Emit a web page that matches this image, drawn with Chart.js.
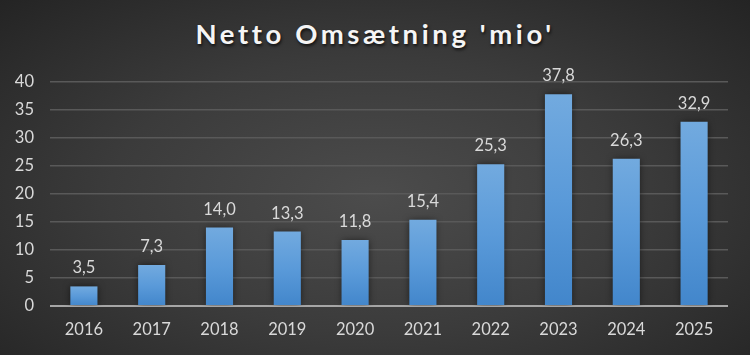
<!DOCTYPE html>
<html>
<head>
<meta charset="utf-8">
<script src="https://cdn.jsdelivr.net/npm/chart.js@4/dist/chart.umd.min.js"></script>
<style>
  html, body { margin: 0; padding: 0; }
  body {
    width: 750px; height: 355px; overflow: hidden; position: relative;
    background: radial-gradient(ellipse farthest-corner at 50% 55%, #4c4c4c 0%, #3b3b3b 50%, #242424 100%);
  }
  #title {
    position: absolute; left: 0; top: 17px; width: 750px; text-align: center;
    font-family: Lato, "Open Sans", sans-serif; font-weight: bold; font-size: 27.5px;
    letter-spacing: 3.6px; color: #f5f5f5;
    text-shadow: 1px 2px 3px rgba(0,0,0,0.7);
  }
  #wrap { position: absolute; left: 0; top: 0; width: 750px; height: 355px; }
</style>
</head>
<body>
<div id="title">Netto Omsætning 'mio'</div>
<div id="wrap"><canvas id="c" width="750" height="355"></canvas></div>
<script>
const years = ['2016','2017','2018','2019','2020','2021','2022','2023','2024','2025'];
const revenue = [3.5, 7.3, 14.0, 13.3, 11.8, 15.4, 25.3, 37.8, 26.3, 32.9];
const yTicks = [0, 5, 10, 15, 20, 25, 30, 35, 40];

const FONT = 'Lato, "Open Sans", sans-serif';

function barGradient(context) {
  const chart = context.chart;
  const { ctx, chartArea, scales } = chart;
  if (!chartArea || context.dataIndex === undefined) return '#5b9bd5';
  const v = context.dataset.data[context.dataIndex];
  const top = scales.y.getPixelForValue(v);
  const bottom = scales.y.getPixelForValue(0);
  const g = ctx.createLinearGradient(0, top, 0, bottom);
  g.addColorStop(0, '#72aadf');
  g.addColorStop(0.5, '#5a9ad9');
  g.addColorStop(1, '#4286cb');
  return g;
}

const shadowPlugin = {
  id: 'barShadow',
  beforeDatasetsDraw(chart) {
    const ctx = chart.ctx;
    ctx.save();
    ctx.shadowColor = 'rgba(0,0,0,0.55)';
    ctx.shadowBlur = 7;
    ctx.shadowOffsetX = 0;
    ctx.shadowOffsetY = 0;
  },
  afterDatasetsDraw(chart) {
    chart.ctx.restore();
  }
};

const labelPlugin = {
  id: 'valueLabels',
  afterDatasetsDraw(chart) {
    const ctx = chart.ctx;
    const meta = chart.getDatasetMeta(0);
    ctx.save();
    ctx.font = '16.5px ' + FONT;
    ctx.fillStyle = '#d9d9d9';
    ctx.textAlign = 'center';
    ctx.textBaseline = 'alphabetic';
    meta.data.forEach((bar, i) => {
      const txt = revenue[i].toFixed(1).replace('.', ',');
      ctx.fillText(txt, bar.x, bar.y - 13);
    });
    ctx.restore();
  }
};

new Chart(document.getElementById('c'), {
  type: 'bar',
  data: {
    labels: years,
    datasets: [{
      data: revenue,
      backgroundColor: barGradient,
      borderWidth: 0,
      barPercentage: 0.8,
      categoryPercentage: 0.5
    }]
  },
  options: {
    responsive: false,
    animation: false,
    devicePixelRatio: 1,
    layout: { padding: { left: 0, right: 22, top: 82, bottom: 0 } },
    plugins: {
      legend: { display: false },
      tooltip: { enabled: false },
      title: { display: false }
    },
    scales: {
      x: {
        grid: { display: false, drawTicks: false },
        border: { display: false },
        ticks: { color: '#d9d9d9', font: { family: FONT, size: 16.5 }, padding: 14, maxRotation: 0 },
        afterFit(scale) { scale.height = 49; }
      },
      y: {
        min: 0, max: 40,
        afterBuildTicks(scale) { scale.ticks = yTicks.map(v => ({ value: v })); },
        grid: {
          drawTicks: false,
          color: (c) => c.tick && c.tick.value === 0 ? '#a6a6a6' : '#595959',
          lineWidth: (c) => c.tick && c.tick.value === 0 ? 2 : 1.5
        },
        border: { display: false },
        ticks: { color: '#d9d9d9', font: { family: FONT, size: 16.5 }, padding: 16 },
        afterFit(scale) { scale.width = 50; }
      }
    }
  },
  plugins: [shadowPlugin, labelPlugin]
});
</script>
</body>
</html>
